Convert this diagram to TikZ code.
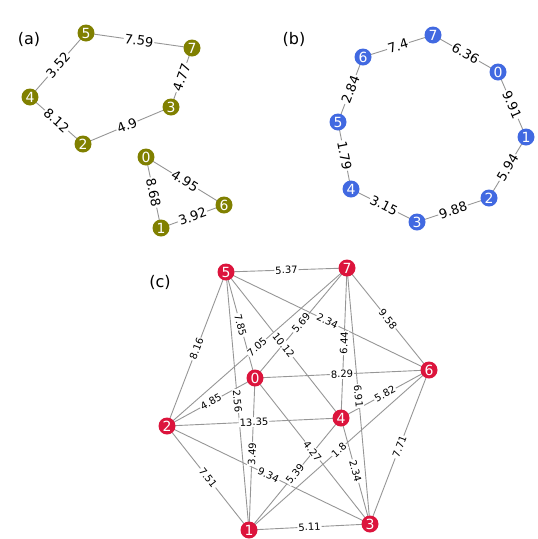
\documentclass[tikz,border=0pt]{standalone}
\usepackage{fontspec}
\setmainfont{DejaVu Sans}
\pgfdeclarelayer{background}
\pgfsetlayers{background,main}
\definecolor{olivec}{RGB}{128,128,0}
\definecolor{bluec}{RGB}{65,105,225}
\definecolor{redc}{RGB}{220,20,60}
\definecolor{edgec}{RGB}{150,150,150}
\tikzset{
  vtx/.style={circle, inner sep=0pt, minimum size=17pt, text=white, font=\fontsize{14}{14}\selectfont},
  va/.style={vtx, fill=olivec},
  vb/.style={vtx, fill=bluec},
  vc/.style={vtx, fill=redc},
  edgeline/.style={draw=edgec, line width=0.9pt},
  elabel/.style={midway, sloped, fill=white, inner sep=1pt, font=\fontsize{13}{13}\selectfont},
  elabelc/.style={midway, sloped, fill=white, inner sep=1pt, font=\fontsize{10}{10}\selectfont},
  panel/.style={font=\fontsize{16}{16}\selectfont}
}
\newcommand\myedge[4][elabel]{%
  \begin{pgfonlayer}{background}\draw[edgeline] (#2.center) -- (#3.center);\end{pgfonlayer}
  \path (#2.center) -- node[#1]{#4} (#3.center);}
\begin{document}
\begin{tikzpicture}[x=1pt,y=-1pt]
\useasboundingbox (0,0) rectangle (538,539);
% panel (a)
\node[panel] (la) at (29,39) {(a)};
\node[va] (a5) at (86,33) {5};
\node[va] (a7) at (192,48) {7};
\node[va] (a4) at (30,97) {4};
\node[va] (a3) at (171,107) {3};
\node[va] (a2) at (83,144) {2};
\node[va] (a0) at (146,157) {0};
\node[va] (a6) at (224,205) {6};
\node[va] (a1) at (161,228) {1};
\myedge{a5}{a7}{7.59}
\myedge{a5}{a4}{3.52}
\myedge{a7}{a3}{4.77}
\myedge{a4}{a2}{8.12}
\myedge{a2}{a3}{4.9}
\myedge{a0}{a6}{4.95}
\myedge{a0}{a1}{8.68}
\myedge{a1}{a6}{3.92}
% panel (b)
\node[panel] (lb) at (294,39) {(b)};
\node[vb] (b7) at (433,35) {7};
\node[vb] (b6) at (363,57) {6};
\node[vb] (b0) at (498,72) {0};
\node[vb] (b5) at (338,122) {5};
\node[vb] (b1) at (526,137) {1};
\node[vb] (b4) at (351,189) {4};
\node[vb] (b2) at (489,198) {2};
\node[vb] (b3) at (417,222) {3};
\myedge{b7}{b6}{7.4}
\myedge{b7}{b0}{6.36}
\myedge{b6}{b5}{2.84}
\myedge{b0}{b1}{9.91}
\myedge{b5}{b4}{1.79}
\myedge{b1}{b2}{5.94}
\myedge{b4}{b3}{3.15}
\myedge{b3}{b2}{9.88}
% panel (c)
\node[panel] (lc) at (160,282) {(c)};
\node[vc] (c5) at (226,272) {5};
\node[vc] (c7) at (347,268) {7};
\node[vc] (c0) at (255,378) {0};
\node[vc] (c6) at (429,370) {6};
\node[vc] (c2) at (167,426) {2};
\node[vc] (c4) at (341,418) {4};
\node[vc] (c1) at (249,530) {1};
\node[vc] (c3) at (370,524) {3};
\myedge[elabelc]{c5}{c7}{5.37}
\myedge[elabelc]{c5}{c2}{8.16}
\myedge[elabelc]{c5}{c1}{2.56}
\myedge[elabelc]{c5}{c0}{7.85}
\myedge[elabelc]{c5}{c4}{10.12}
\myedge[elabelc]{c5}{c6}{2.34}
\myedge[elabelc]{c7}{c2}{7.05}
\myedge[elabelc]{c7}{c0}{5.69}
\myedge[elabelc]{c7}{c4}{6.44}
\myedge[elabelc]{c7}{c3}{6.91}
\myedge[elabelc]{c7}{c6}{9.58}
\myedge[elabelc]{c0}{c6}{8.29}
\myedge[elabelc]{c0}{c2}{4.85}
\myedge[elabelc]{c0}{c1}{3.49}
\myedge[elabelc]{c0}{c3}{4.27}
\myedge[elabelc]{c2}{c4}{13.35}
\myedge[elabelc]{c2}{c3}{9.34}
\myedge[elabelc]{c2}{c1}{7.51}
\myedge[elabelc]{c4}{c1}{5.39}
\myedge[elabelc]{c4}{c6}{5.82}
\myedge[elabelc]{c4}{c3}{2.34}
\myedge[elabelc]{c1}{c6}{1.8}
\myedge[elabelc]{c1}{c3}{5.11}
\myedge[elabelc]{c3}{c6}{7.71}
\end{tikzpicture}
\end{document}
